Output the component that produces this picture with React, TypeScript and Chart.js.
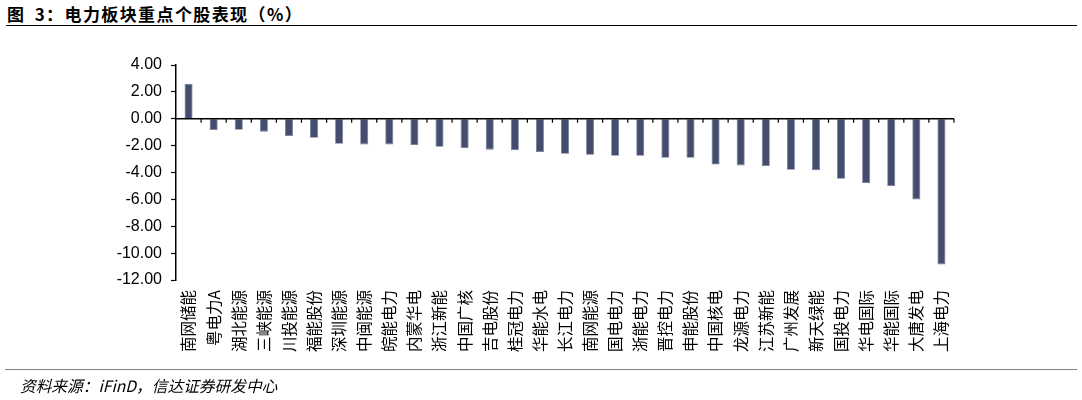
import React, { useEffect, useRef } from "react";
import { Chart, registerables } from "chart.js";

Chart.register(...registerables);

const categories = [
  "南网储能", "粤电力A", "湖北能源", "三峡能源", "川投能源", "福能股份", "深圳能源", "中闽能源",
  "皖能电力", "内蒙华电", "浙江新能", "中国广核", "吉电股份", "桂冠电力", "华能水电", "长江电力",
  "南网能源", "国电电力", "浙能电力", "晋控电力", "申能股份", "中国核电", "龙源电力", "江苏新能",
  "广州发展", "新天绿能", "国投电力", "华电国际", "华能国际", "大唐发电", "上海电力",
];

const values = [
  2.6, -0.84, -0.82, -0.96, -1.29, -1.41, -1.86, -1.91,
  -1.91, -1.96, -2.08, -2.18, -2.3, -2.35, -2.48, -2.6,
  -2.68, -2.75, -2.75, -2.9, -2.9, -3.4, -3.47, -3.52,
  -3.79, -3.84, -4.46, -4.78, -5.03, -6.0, -10.84,
];

const yMin = -12;
const yMax = 4;
const yStep = 2;

const titleText = "图 3：电力板块重点个股表现（%）";
const sourceText = "资料来源：iFinD，信达证券研发中心";

const zeroLinePlugin = {
  id: "zeroLine",
  afterDatasetsDraw(chart: any) {
    const { ctx, scales } = chart;
    const x = scales.x;
    const y = scales.y;
    const y0 = y.getPixelForValue(0);
    const n = categories.length;
    ctx.save();
    ctx.strokeStyle = "#000000";
    ctx.lineWidth = 1.5;
    ctx.beginPath();
    ctx.moveTo(x.left, y0);
    ctx.lineTo(x.right, y0);
    ctx.stroke();
    ctx.lineWidth = 1.2;
    for (let i = 1; i <= n; i++) {
      const px =
        i < n
          ? (x.getPixelForValue(i - 1) + x.getPixelForValue(i)) / 2
          : x.right;
      ctx.beginPath();
      ctx.moveTo(px, y0);
      ctx.lineTo(px, y0 + 4);
      ctx.stroke();
    }
    ctx.restore();
  },
};

export default function App() {
  const canvasRef = useRef<HTMLCanvasElement | null>(null);

  useEffect(() => {
    if (!canvasRef.current) return;
    const chart = new Chart(canvasRef.current, {
      type: "bar",
      data: {
        labels: categories,
        datasets: [
          {
            data: values,
            backgroundColor: "#444D6D",
            borderColor: "#6E7793",
            borderWidth: 0.8,
            barPercentage: 0.64,
            categoryPercentage: 0.5,
          },
        ],
      },
      options: {
        animation: false,
        responsive: false,
        maintainAspectRatio: false,
        layout: { padding: { left: 0, top: 65, right: 128, bottom: 0 } },
        plugins: {
          legend: { display: false },
          tooltip: { enabled: false },
          title: { display: false },
        },
        scales: {
          x: {
            grid: { display: false, drawTicks: false },
            border: { display: false },
            afterFit: (s: any) => {
              s.height = 120;
            },
            ticks: {
              autoSkip: false,
              minRotation: 90,
              maxRotation: 90,
              padding: 10,
              color: "#000000",
              font: { family: "'Noto Sans CJK SC', 'Noto Sans', sans-serif", size: 15.5 },
            },
          },
          y: {
            min: yMin,
            max: yMax,
            afterFit: (s: any) => {
              s.width = 176;
            },
            grid: {
              display: true,
              drawOnChartArea: false,
              drawTicks: true,
              tickLength: 5,
              tickColor: "#000000",
              tickWidth: 1.2,
            },
            border: { display: true, color: "#000000", width: 1.5 },
            ticks: {
              stepSize: yStep,
              padding: 9,
              color: "#000000",
              font: { family: "'Liberation Sans', Arial, sans-serif", size: 16 },
              callback: (v: any) => Number(v).toFixed(2),
            },
          },
        },
      },
      plugins: [zeroLinePlugin],
    });
    return () => chart.destroy();
  }, []);

  return (
    <div
      style={{
        position: "absolute",
        left: 0,
        top: 0,
        width: 1082,
        height: 400,
        background: "#ffffff",
        overflow: "hidden",
      }}
    >
      <div
        style={{
          position: "absolute",
          left: 7,
          top: 3,
          fontFamily: "'Noto Sans CJK SC', sans-serif",
          fontWeight: 700,
          fontSize: 17,
          letterSpacing: 1.4,
          wordSpacing: 4,
          lineHeight: "22px",
          color: "#000000",
          whiteSpace: "nowrap",
        }}
      >
        {titleText}
      </div>
      <div
        style={{
          position: "absolute",
          left: 6,
          top: 25,
          width: 1071,
          height: 0,
          borderTop: "1.5px solid #000000",
        }}
      />
      <canvas
        ref={canvasRef}
        width={1082}
        height={400}
        style={{ position: "absolute", left: 0, top: 0, width: 1082, height: 400 }}
      />
      <div
        style={{
          position: "absolute",
          left: 5,
          top: 369,
          width: 1072,
          height: 0,
          borderTop: "1.5px solid #7f7f7f",
        }}
      />
      <div
        style={{
          position: "absolute",
          left: 20,
          top: 375,
          fontFamily: "'Noto Sans CJK SC', 'DejaVu Serif', serif",
          fontStyle: "italic",
          fontSize: 15.7,
          lineHeight: "22px",
          color: "#000000",
          whiteSpace: "nowrap",
        }}
      >
        {sourceText}
      </div>
    </div>
  );
}
